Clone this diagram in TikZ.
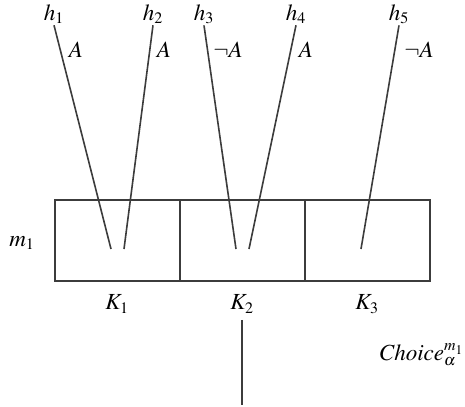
\documentclass[tikz,border=0pt]{standalone}
\usepackage{mathptmx}
\usetikzlibrary{positioning}
\definecolor{linecolor}{RGB}{60,60,60}
\tikzset{
    cellbox/.style={
        rectangle,
        draw=linecolor,
        line width=1.8pt,
        minimum width=93.75pt,
        minimum height=60.75pt,
        inner sep=0pt
    },
    hlabel/.style={font=\LARGE, inner sep=1pt},
    elabel/.style={font=\LARGE, inner sep=0pt},
    wire/.style={draw=linecolor, line width=1.2pt}
}
\begin{document}
\begin{tikzpicture}[x=0.75pt, y=-0.75pt]
    \useasboundingbox (0,0) rectangle (465,407);

    % Boxes
    \node[cellbox] (box1) at (117.5,240.5) {};
    \node[cellbox] (box2) at (242.5,240.5) {};
    \node[cellbox] (box3) at (367.5,240.5) {};

    % Labels round the boxes
    \node[hlabel] (m1) at (22,243) {$m_1$};
    \node[hlabel] (K1) at (117,304) {$K_1$};
    \node[hlabel] (K2) at (242,304) {$K_2$};
    \node[hlabel] (K3) at (367,304) {$K_3$};

    % Hypotheses
    \node[hlabel] (h1) at (54,14) {$h_1$};
    \node[hlabel] (h2) at (153,14) {$h_2$};
    \node[hlabel] (h3) at (204,14) {$h_3$};
    \node[hlabel] (h4) at (296,14) {$h_4$};
    \node[hlabel] (h5) at (399,14) {$h_5$};

    % Line ends inside the boxes
    \coordinate (e1) at (111,249);
    \coordinate (e2) at (124,249);
    \coordinate (e3) at (236,249);
    \coordinate (e4) at (249,249);
    \coordinate (e5) at (361,249);

    \draw[wire] (h1.south) -- (e1);
    \draw[wire] (h2.south) -- (e2);
    \draw[wire] (h3.south) -- (e3);
    \draw[wire] (h4.south) -- (e4);
    \draw[wire] (h5.south) -- (e5);

    % Line labels
    \node[elabel] (a1) at (76,50) {$A$};
    \node[elabel] (a2) at (164,50) {$A$};
    \node[elabel] (a3) at (228,50) {$\neg A$};
    \node[elabel] (a4) at (306,50) {$A$};
    \node[elabel] (a5) at (419,50) {$\neg A$};

    % Choice
    \coordinate (cend) at (242,405);
    \draw[wire] (K2.south) ++(0,5) -- (cend);
    \node[elabel, anchor=east] (choice) at (464,355) {$\mathit{Choice}^{m_1}_{\alpha}$};
\end{tikzpicture}
\end{document}
